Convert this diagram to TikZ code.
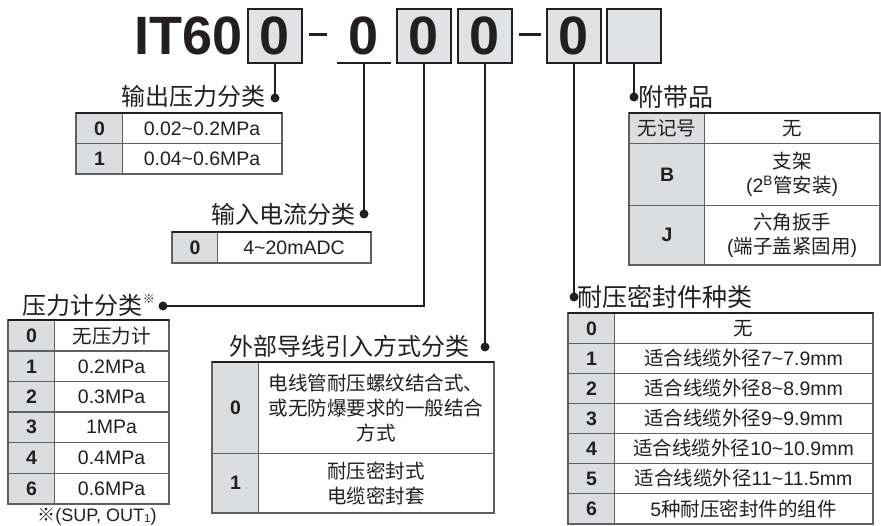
\documentclass[tikz,border=0pt]{standalone}
\usepackage{fontspec}
\setmainfont{Liberation Sans}
\newfontfamily\cjk{Noto Sans CJK SC}
\definecolor{ink}{HTML}{231F20}
\definecolor{gridc}{HTML}{5F6062}
\definecolor{keygray}{HTML}{DCDDDE}
\definecolor{boxgray}{HTML}{E1E2E4}
\newcommand\C[1]{{\cjk #1}}
\newcommand\tl{\textasciitilde}
\newcommand\trow[8]{%
  \node[keycell, minimum width={#3-#2}, minimum height=#6] (#1k) at (#2,#5) {#7};
  \node[valcell, minimum width={#4-#3}, minimum height=#6] (#1v) at (#3,#5) {#8};}
\begin{document}
\begin{tikzpicture}[x=1pt,y=-1pt,
  hbox/.style={draw=ink, line width=1.6pt, fill=boxgray, minimum width=54pt, minimum height=54pt, inner sep=0pt, font=\fontsize{54}{54}\selectfont\bfseries, text=ink},
  hnum/.style={inner sep=0pt, minimum width=54pt, minimum height=54pt, font=\fontsize{54}{54}\selectfont\bfseries, text=ink},
  dot/.style={circle, fill=ink, inner sep=0pt, minimum size=9pt},
  conn/.style={draw=ink, line width=2pt},
  ttl/.style={font=\cjk\fontsize{24}{28}\selectfont, inner sep=0pt, text=ink},
  ttlb/.style={font=\cjk\fontsize{25}{28}\selectfont, inner sep=0pt, text=ink},
  keycell/.style={draw=gridc, line width=1.1pt, fill=keygray, inner sep=0pt, anchor=north west, font=\fontsize{19.5}{24}\selectfont\bfseries, text=ink, align=center},
  valcell/.style={draw=gridc, line width=1.1pt, fill=white, inner sep=0pt, anchor=north west, font=\fontsize{19.5}{24}\selectfont, text=ink, align=center},
  frame/.style={draw=gridc, line width=1.3pt},
  topline/.style={draw=ink, line width=2.2pt}]
\useasboundingbox (0,0) rectangle (881,526);

% header
\node[anchor=base west, inner sep=0pt, font=\fontsize{54}{54}\selectfont\bfseries, text=ink] (it) at (134,55) {IT60};
\node[hbox] (b1) at (275,36) {0};
\node[hnum] (b2) at (364,36) {0};
\node[hbox] (b3) at (424,36) {0};
\node[hbox] (b4) at (485,36) {0};
\node[hbox] (b5) at (574,36) {0};
\node[hbox] (b6) at (634,36) {};
\draw[ink, line width=2pt] (b2.south west) -- (b2.south east);
\fill[ink] (309,33.5) rectangle (327,36.5);
\fill[ink] (519,33.5) rectangle (541,36.5);

% dots and titles
\node[dot] (d1) at (275,98) {};
\node[ttl, anchor=east] (t1) at (266,96) {输出压力分类};
\node[dot] (d2) at (364,214) {};
\node[ttl, anchor=east] (t2) at (356,214) {输入电流分类};
\node[dot] (d3) at (163,306) {};
\node[ttl, anchor=east] (t3) at (155,305) {压力计分类\raisebox{0.42em}{\fontsize{12}{12}\selectfont ※}};
\node[dot] (d4) at (485,347) {};
\node[ttl, anchor=east] (t4) at (470,346) {外部导线引入方式分类};
\node[dot] (d5) at (574,297) {};
\node[ttlb, anchor=west] (t5) at (577,297) {耐压密封件种类};
\node[dot] (d6) at (634,97) {};
\node[ttlb, anchor=west] (t6) at (638,97) {附带品};

\draw[conn] (b1.south) -- (d1.center);
\draw[conn] (b2.south) -- (d2.center);
\draw[conn] (b3.south) |- (d3.center);
\draw[conn] (b4.south) -- (d4.center);
\draw[conn] (b5.south) -- (d5.center);
\draw[conn] (b6.south) -- (d6.center);

% table 1
\trow{ta0}{76}{122}{281}{113}{30}{0}{0.02\tl0.2MPa}
\trow{ta1}{76}{122}{281}{143}{30}{1}{0.04\tl0.6MPa}
\draw[frame] (ta0k.north west) rectangle (ta1v.south east);
\draw[topline] (ta0k.north west) -- (ta0v.north east);

% table 2
\trow{tb0}{172}{217}{370}{232}{30}{0}{4\tl20mADC}
\draw[frame] (tb0k.north west) rectangle (tb0v.south east);
\draw[topline] (tb0k.north west) -- (tb0v.north east);

% table 3
\trow{tc0}{8}{54}{168}{320}{30.5}{0}{\C{无压力计}}
\trow{tc1}{8}{54}{168}{350.5}{30.5}{1}{0.2MPa}
\trow{tc2}{8}{54}{168}{381}{30.5}{2}{0.3MPa}
\trow{tc3}{8}{54}{168}{411.5}{30.5}{3}{1MPa}
\trow{tc4}{8}{54}{168}{442}{30.5}{4}{0.4MPa}
\trow{tc5}{8}{54}{168}{472.5}{30.5}{6}{0.6MPa}
\draw[frame] (tc0k.north west) rectangle (tc5v.south east);
\draw[topline] (tc0k.north west) -- (tc0v.north east);
\node[inner sep=0pt, font=\fontsize{18}{18}\selectfont, text=ink] (fn) at (97,517) {\C{※}(SUP, OUT\raisebox{-1pt}{\fontsize{11.5}{11.5}\selectfont 1})};

% table 4
\trow{td0}{212}{258}{493}{362}{91}{0}{\C{电线管耐压螺纹结合式、}\\[1pt]\C{或无防爆要求的一般结合}\\[1pt]\C{方式}}
\trow{td1}{212}{258}{493}{453}{59}{1}{\C{耐压密封式}\\[1pt]\C{电缆密封套}}
\draw[frame] (td0k.north west) rectangle (td1v.south east);
\draw[topline] (td0k.north west) -- (td0v.north east);

% table 5
\trow{te0}{629}{704}{879}{113}{30}{\mdseries\C{无记号}}{\C{无}}
\trow{te1}{629}{704}{879}{143}{62}{B}{\C{支架}\\(2\textsuperscript{B}\C{管安装})}
\trow{te2}{629}{704}{879}{205}{59}{J}{\C{六角扳手}\\(\C{端子盖紧固用})}
\draw[frame] (te0k.north west) rectangle (te2v.south east);
\draw[topline] (te0k.north west) -- (te0v.north east);

% table 6
\trow{tf0}{568}{614}{872}{313}{30}{0}{\C{无}}
\trow{tf1}{568}{614}{872}{343}{30}{1}{\C{适合线缆外径}7\tl7.9mm}
\trow{tf2}{568}{614}{872}{373}{30}{2}{\C{适合线缆外径}8\tl8.9mm}
\trow{tf3}{568}{614}{872}{403}{30}{3}{\C{适合线缆外径}9\tl9.9mm}
\trow{tf4}{568}{614}{872}{433}{30}{4}{\C{适合线缆外径}10\tl10.9mm}
\trow{tf5}{568}{614}{872}{463}{30}{5}{\C{适合线缆外径}11\tl11.5mm}
\trow{tf6}{568}{614}{872}{493}{30}{6}{5\C{种耐压密封件的组件}}
\draw[frame] (tf0k.north west) rectangle (tf6v.south east);
\draw[topline] (tf0k.north west) -- (tf0v.north east);
\end{tikzpicture}
\end{document}
